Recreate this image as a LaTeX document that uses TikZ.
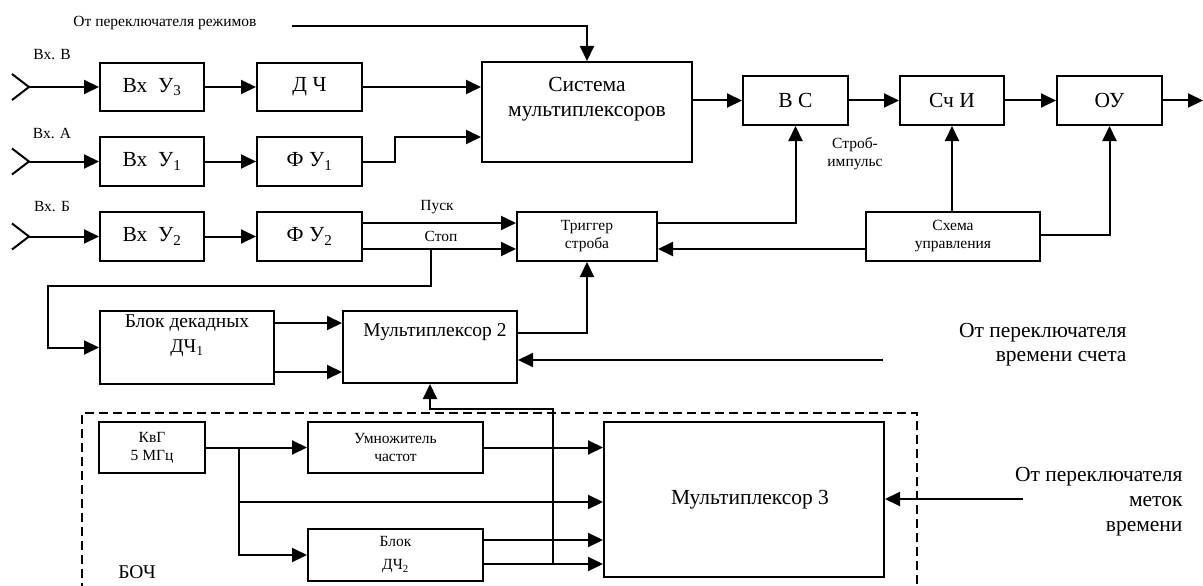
\documentclass[tikz,border=0pt]{standalone}
\usepackage{fontspec}
\setmainfont{Liberation Serif}
\usetikzlibrary{arrows.meta,calc}

\begin{document}
\begin{tikzpicture}[x=1pt,y=-1pt,
  box/.style={draw,line width=2pt,inner sep=0pt,align=center},
  big/.style={font=\fontsize{21.5}{25}\selectfont},
  mid/.style={font=\fontsize{19.5}{24.5}\selectfont},
  small/.style={font=\fontsize{15.5}{18}\selectfont},
  wire/.style={line width=2pt},
  arr/.style={wire,-{Triangle[length=15pt,width=14pt]}},
  frame/.style={line width=1.5pt,dash pattern=on 9pt off 5pt},
  ]
\useasboundingbox (0,0) rectangle (1203,586);

% ---------- input chain blocks ----------
\node[box,big,minimum width=104,minimum height=48] (vy3) at (152,87)    {Вх\ \ У\textsubscript{3}};
\node[box,big,minimum width=105,minimum height=48] (dch) at (309.5,87)  {Д Ч};
\node[box,big,minimum width=104,minimum height=49] (vy1) at (152,161.5) {Вх\ \ У\textsubscript{1}};
\node[box,big,minimum width=105,minimum height=49] (fy1) at (309.5,161.5) {Ф У\textsubscript{1}};
\node[box,big,minimum width=104,minimum height=49] (vy2) at (152,236.5) {Вх\ \ У\textsubscript{2}};
\node[box,big,minimum width=105,minimum height=49] (fy2) at (309.5,236.5) {Ф У\textsubscript{2}};

% ---------- main path ----------
\node[box,minimum width=210,minimum height=100] (sys) at (587,112) {};
\node[big,align=center] (systxt) at (587,99) {Система\\мультиплексоров};
\node[box,big,minimum width=105,minimum height=49] (vs)   at (795.5,100.5) {В С};
\node[box,big,minimum width=104,minimum height=49] (schi) at (952,100.5)   {Сч И};
\node[box,big,minimum width=105,minimum height=49] (ou)   at (1109.5,100.5) {ОУ};

\node[box,small,minimum width=140,minimum height=49] (trig)  at (587,236.5) {Триггер\\строба};
\node[box,small,minimum width=174,minimum height=49] (sxema) at (953,236.5) {Схема\\управления};

\node[box,minimum width=174,minimum height=73] (bdd) at (187,347.5) {};
\node[mid,align=center] (bddtxt) at (187,335.5) {Блок декадных\\ДЧ\textsubscript{1}};
\node[box,minimum width=174,minimum height=72] (mux2) at (430,347) {};
\node[mid] (mux2txt) at (435,332) {Мультиплексор 2};

% ---------- frequency reference unit ----------
\node[box,small,minimum width=106,minimum height=51] (kvg)  at (152,447.5) {КвГ\\5 МГц};
\node[box,small,minimum width=175,minimum height=51] (umn)  at (395.5,447.5) {Умножитель\\частот};
\node[box,small,minimum width=175,minimum height=52] (dch2) at (395.5,555) {Блок\\[5pt]ДЧ\textsubscript{2}};
\node[box,minimum width=280,minimum height=155] (mux3) at (744,499.5) {};
\node[big] (mux3txt) at (750,500) {Мультиплексор 3};
\draw[frame] (82,592) -- (82,413) -- (917,413) -- (917,592);
\node[mid] (boch) at (137,572) {БОЧ};

% ---------- text labels ----------
\node[small] (modetxt) at (165,23) {От переключателя режимов};
\node[small] (lblB) at (52,55)  {Вх. В};
\node[small] (lblA) at (52,133) {Вх. А};
\node[small] (lblV) at (52,207) {Вх. Б};
\node[small] (pusk) at (437,207) {Пуск};
\node[small] (stop) at (441,236) {Стоп};
\node[small,align=center] (strob) at (855,154) {Строб-\\импульс};
\node[align=right,anchor=east,font=\fontsize{21.5}{24}\selectfont] (cnttxt) at (1130,345) {От переключателя\\времени счета};
\node[align=right,anchor=east,font=\fontsize{21.5}{25}\selectfont] (marktxt) at (1186,502) {От переключателя\\меток\\времени};

% ---------- input connectors ----------
\foreach \n in {vy3,vy1,vy2}{
  \coordinate (in-\n) at ($(\n.west)+(-70,0)$);
  \draw[wire] ($(in-\n)+(-17,-13)$) -- (in-\n) -- ($(in-\n)+(-17,13)$);
  \draw[arr] (in-\n) -- (\n.west);
}
\draw[arr] (vy3) -- (dch);
\draw[arr] (vy1) -- (fy1);
\draw[arr] (vy2) -- (fy2);
\draw[arr] (dch.east) -- (dch.east -| sys.west);
\draw[arr] (fy1.east) -- (395,161.5) -- (395,137) -- (sys.west |- 0,137);
\coordinate (modesrc) at (292,26);
\draw[arr] (modesrc) -- (sys.north |- modesrc) -- (sys.north);

% ---------- main path connectors ----------
\draw[arr] (vs.west -| sys.east) -- (vs.west);
\draw[arr] (vs) -- (schi);
\draw[arr] (schi) -- (ou);
\coordinate (outp) at (1203,100.5);
\draw[arr] (ou.east) -- (outp);

\draw[arr] ([yshift=13.5pt]fy2.east) -- ([yshift=13.5pt]trig.west);
\draw[arr] ([yshift=-12.5pt]fy2.east) -- ([yshift=-12.5pt]trig.west);
\coordinate (stp) at (431,249);
\draw[arr] (stp) -- (431,286) -- (48,286) |- (bdd.west);

\draw[arr] ([yshift=13.5pt]trig.east) -| (vs.south);
\draw[arr] ([yshift=-12.5pt]sxema.west) -- ([yshift=-12.5pt]trig.east);
\draw[arr] (sxema.north -| schi.south) -- (schi.south);
\draw[arr] ([yshift=1.5pt]sxema.east) -| (ou.south);

\draw[arr] ([yshift=24.5pt]bdd.east) -- ([yshift=24.5pt]bdd.east -| mux2.west);
\draw[arr] ([yshift=-24.5pt]bdd.east) -- ([yshift=-24.5pt]bdd.east -| mux2.west);
\draw[arr] ([yshift=14pt]mux2.east) -| (trig.south);
\coordinate (cntsrc) at (883,360);
\draw[arr] (cntsrc) -- (mux2.east |- cntsrc);

% ---------- frequency unit connectors ----------
\draw[arr] (kvg) -- (umn);
\coordinate (br) at (239,447.5);
\draw[arr] (br) |- (dch2.west);
\coordinate (m3b) at (mux3.west |- 0,502);
\draw[arr] (br |- m3b) -- (m3b);
\draw[arr] (umn.east) -- (umn.east -| mux3.west);
\draw[arr] ([yshift=15pt]dch2.east) -- ([yshift=15pt]dch2.east -| mux3.west);
\draw[arr] ([yshift=-9pt]dch2.east) -- ([yshift=-9pt]dch2.east -| mux3.west);
\coordinate (tap) at ([yshift=-9pt]dch2.east -| 553,0);
\draw[arr] (tap) |- ([yshift=-25pt]mux2.south) -- (mux2.south);
\coordinate (marksrc) at (1023,499);
\draw[arr] (marksrc) -- (mux3.east |- marksrc);
\end{tikzpicture}
\end{document}
